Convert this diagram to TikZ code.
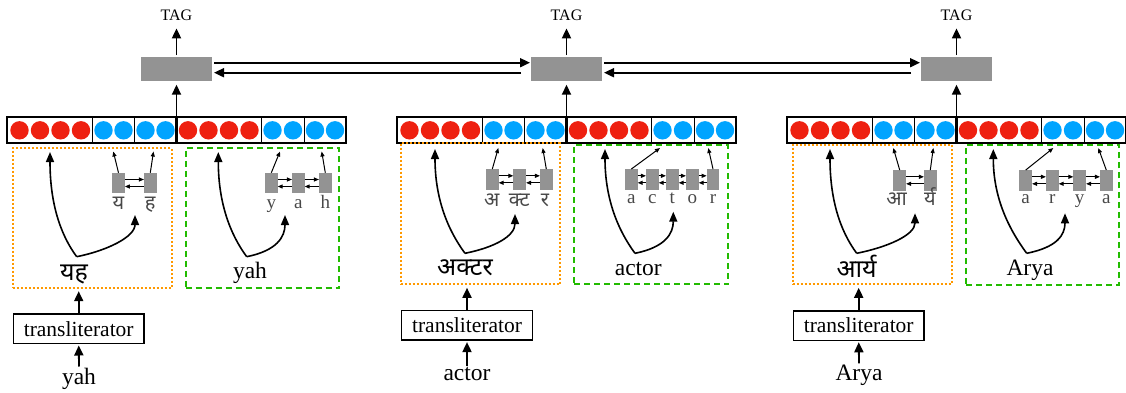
\documentclass[tikz,border=0pt]{standalone}
\usepackage{fontspec}
\setmainfont{Liberation Serif}
\newfontfamily\dev[Script=Devanagari]{Noto Sans}
\usetikzlibrary{arrows.meta}
\definecolor{cred}{RGB}{238,32,16}
\definecolor{cblue}{RGB}{0,164,255}
\definecolor{corange}{RGB}{255,153,0}
\definecolor{cgreen}{RGB}{34,187,0}
\definecolor{cgray}{RGB}{147,147,147}
\definecolor{cdark}{RGB}{72,72,72}
\begin{document}
\begin{tikzpicture}[x=1pt,y=-1pt,
  bigarr/.style={line width=1.8pt,-{Triangle[length=10pt,width=9pt]}},
  curvarr/.style={line width=1.6pt,-{Triangle[length=10pt,width=8pt]}},
  smallarr/.style={line width=1pt,-{Triangle[length=5pt,width=4pt]}},
  graybox/.style={fill=cgray,inner sep=0,outer sep=0,minimum width=71pt,minimum height=24pt},
  cell/.style={fill=cgray,inner sep=0,outer sep=0,minimum width=12.7pt,minimum height=20.5pt},
  barbox/.style={draw,line width=2.2pt,inner sep=0,outer sep=0,minimum width=339.6pt,minimum height=26pt},
  obox/.style={draw=corange,line width=2pt,dash pattern=on 2pt off 2pt,inner sep=0,outer sep=0},
  gbox/.style={draw=cgreen,line width=2pt,dash pattern=on 6pt off 4pt,inner sep=0,outer sep=0},
  trbox/.style={draw,line width=1.3pt,inner sep=0,minimum width=130.7pt,minimum height=29.3pt,font=\fontsize{21.5}{23}\selectfont},
  tag/.style={font=\fontsize{16}{18}\selectfont,inner sep=1pt},
  biglbl/.style={anchor=base,inner sep=1pt,font=\fontsize{23.5}{25}\selectfont},
  bigdev/.style={anchor=base,inner sep=1pt,font=\dev\fontsize{25}{27}\selectfont},
  smlbl/.style={anchor=base,inner sep=0,text=cdark,font=\fontsize{19}{21}\selectfont},
  smdev/.style={anchor=base,inner sep=0,text=cdark,font=\dev\fontsize{20}{22}\selectfont}
]
\useasboundingbox (0,0) rectangle (1126,392);

% bars, gray boxes, TAG
\foreach \k in {0,1,2}{
  \pgfmathsetmacro\X{390*\k}
  \foreach \cx in {19.5,40,60.5,81,188,208.5,229,249.5}
    \fill[cred] (\cx+\X,130.3) circle (9.2pt);
  \foreach \cx in {103.5,123.5,145.5,165.5,272.5,293,315,335}
    \fill[cblue] (\cx+\X,130.3) circle (9.2pt);
  \foreach \dx in {92.3,134.7,261.7,304}
    \draw[line width=1pt] (\dx+\X,117.3) -- (\dx+\X,143.3);
  \node[barbox] (bar\k) at (176.5+\X,130.3) {};
  \draw[line width=2.2pt] (bar\k.north) -- (bar\k.south);
  \node[graybox] (box\k) at (176.5+\X,68.7) {};
  \node[tag] (tag\k) at (176.5+\X,15.3) {TAG};
  \draw[bigarr,shorten >=4pt] (bar\k.north) -- (box\k.south);
  \draw[bigarr,shorten <=1.5pt,shorten >=6.5pt] (box\k.north) -- (tag\k.south);
}
% horizontal arrows
\draw[bigarr,shorten <=2pt,shorten >=1pt] ([yshift=6pt]box0.east) -- ([yshift=6pt]box1.west);
\draw[bigarr,shorten <=10pt,shorten >=2pt] ([yshift=-4pt]box1.west) -- ([yshift=-4pt]box0.east);
\draw[bigarr,shorten <=2pt,shorten >=1pt] ([yshift=6pt]box1.east) -- ([yshift=6pt]box2.west);
\draw[bigarr,shorten <=10pt,shorten >=2pt] ([yshift=-4pt]box2.west) -- ([yshift=-4pt]box1.east);

% frames
\node[obox,minimum width=159pt,minimum height=139.4pt] (o1) at (92.2,218) {};
\node[gbox,minimum width=153.6pt,minimum height=140pt] (g1) at (262.5,218) {};
\node[obox,minimum width=159.3pt,minimum height=141pt] (o2) at (480.35,213.8) {};
\node[gbox,minimum width=154.3pt,minimum height=139.3pt] (g2) at (651.15,214.65) {};
\node[obox,minimum width=159pt,minimum height=139.3pt] (o3) at (872.2,214.65) {};
\node[gbox,minimum width=153.3pt,minimum height=140pt] (g3) at (1042.65,215) {};

% transliterators and inputs
\node[trbox] (t1) at (78.7,328.7) {transliterator};
\node[trbox] (t2) at (467,325.3) {transliterator};
\node[trbox] (t3) at (858.7,325.5) {transliterator};
\node[biglbl] (in1) at (79,384) {yah};
\node[biglbl] (in2) at (467,380.7) {actor};
\node[biglbl] (in3) at (859,380) {Arya};
\foreach \i in {1,2,3}{
  \draw[bigarr,shorten >=1.5pt] (in\i.north) -- (t\i.south);
  \draw[bigarr,shorten >=3.5pt] (t\i.north) -- (t\i.north |- o\i.south);
}

% big labels
\node[bigdev] (w1) at (74,280) {यह};
\node[biglbl] (v1) at (250,278.3) {yah};
\node[bigdev] (w2) at (465,275.5) {अक्टर};
\node[biglbl] (v2) at (638.3,275) {actor};
\node[bigdev] (w3) at (856.7,277) {आर्य};
\node[biglbl] (v3) at (1030,275) {Arya};

% curve origins and tips
\coordinate (O1) at (76.7,256.7);  \coordinate (U1) at (50,152);    \coordinate (R1) at (135,215);
\coordinate (O2) at (246.7,256.7); \coordinate (U2) at (218.3,152); \coordinate (R2) at (285,215);
\coordinate (O3) at (465,253.3);   \coordinate (U3) at (435,149);   \coordinate (R3) at (515,214);
\coordinate (O4) at (635,253.3);   \coordinate (U4) at (605,149);   \coordinate (R4) at (673.3,211.7);
\coordinate (O5) at (856.7,253.3); \coordinate (U5) at (830,149);   \coordinate (R5) at (915,213.3);
\coordinate (O6) at (1026.7,253.3);\coordinate (U6) at (993.3,149); \coordinate (R6) at (1065,213.3);
\foreach \i in {1,...,6}{
  \draw[curvarr] (O\i) .. controls +(-17,-23) and +(0,50) .. (U\i);
  \draw[curvarr] (O\i) .. controls +(30,-6) and +(0,22) .. (R\i);
}

% group 1 Hindi cells
\node[cell] (a1) at (118.5,183) {};
\node[cell] (a2) at (150.3,183) {};
\coordinate (a1t) at (113.3,151.5); \coordinate (a2t) at (153.5,151.5);
\node[smdev] (a1l) at (118.5,209.5) {य};
\node[smdev] (a2l) at (150.3,209.5) {ह};
% group 1 English cells
\node[cell] (b1) at (271.3,183) {};
\node[cell] (b2) at (298.3,183) {};
\node[cell] (b3) at (325.3,183) {};
\coordinate (b1t) at (280,151.5); \coordinate (b3t) at (321.7,151.5);
\node[smlbl] (b1l) at (271.3,208) {y};
\node[smlbl] (b2l) at (298.3,208) {a};
\node[smlbl] (b3l) at (325.3,208) {h};
% group 2 Hindi cells
\node[cell] (c1) at (492.3,179.3) {};
\node[cell] (c2) at (519.7,179.3) {};
\node[cell] (c3) at (546.3,179.3) {};
\coordinate (c1t) at (498.3,148); \coordinate (c3t) at (542.7,148);
\node[smdev] (c1l) at (491.7,206.5) {अ};
\node[smdev] (c2l) at (519.3,206.5) {क्ट};
\node[smdev] (c3l) at (545,206.5) {र};
% group 2 English cells
\node[cell] (d1) at (631.3,179.3) {};
\node[cell] (d2) at (652.3,179.3) {};
\node[cell] (d3) at (672.3,179.3) {};
\node[cell] (d4) at (692.3,179.3) {};
\node[cell] (d5) at (713,179.3) {};
\coordinate (d1t) at (660,148); \coordinate (d5t) at (708.3,148);
\node[smlbl] (d1l) at (631.3,203) {a};
\node[smlbl] (d2l) at (652.3,203) {c};
\node[smlbl] (d3l) at (672.3,203) {t};
\node[smlbl] (d4l) at (692.3,203) {o};
\node[smlbl] (d5l) at (713,203) {r};
% group 3 Hindi cells
\node[cell] (e1) at (899.7,180.3) {};
\node[cell] (e2) at (930.3,180.3) {};
\coordinate (e1t) at (893.3,148); \coordinate (e2t) at (933.3,148);
\node[smdev] (e1l) at (896.7,205.5) {आ};
\node[smdev] (e2l) at (930,205.5) {र्य};
% group 3 English cells
\node[cell] (f1) at (1025.7,180.3) {};
\node[cell] (f2) at (1052.3,180.3) {};
\node[cell] (f3) at (1079.7,180.3) {};
\node[cell] (f4) at (1106.3,180.3) {};
\coordinate (f1t) at (1053.3,148); \coordinate (f4t) at (1098.3,148);
\node[smlbl] (f1l) at (1025.7,203.3) {a};
\node[smlbl] (f2l) at (1052.3,203.3) {r};
\node[smlbl] (f3l) at (1079.7,203.3) {y};
\node[smlbl] (f4l) at (1106.3,203.3) {a};

% links between cells
\foreach \p/\q in {a1/a2,b1/b2,b2/b3,c1/c2,c2/c3,d1/d2,d2/d3,d3/d4,d4/d5,e1/e2,f1/f2,f2/f3,f3/f4}{
  \draw[smallarr] ([yshift=3.5pt]\p.east) -- ([yshift=3.5pt]\q.west);
  \draw[smallarr] ([yshift=-3.5pt]\q.west) -- ([yshift=-3.5pt]\p.east);
}
% up arrows from cells
\foreach \p/\q in {a1/a1t,a2/a2t,b1/b1t,b3/b3t,c1/c1t,c3/c3t,d1/d1t,d5/d5t,e1/e1t,e2/e2t,f1/f1t,f4/f4t}{
  \draw[smallarr] (\p.north) -- (\q);
}
\end{tikzpicture}
\end{document}
